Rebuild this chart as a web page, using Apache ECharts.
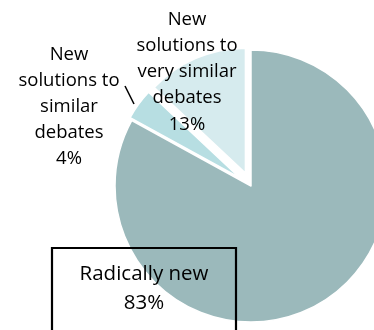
<!DOCTYPE html>
<html><head><meta charset="utf-8">
<script src="https://cdn.jsdelivr.net/npm/echarts@6/dist/echarts.min.js"></script>
<style>html,body{margin:0;padding:0;background:#fff}#c{width:374px;height:330px}</style>
</head><body><div id="c"></div>
<script>
const categories = ['Radically new', 'New solutions to similar debates', 'New solutions to very similar debates'];
const labelLines = [['Radically new'], ['New', 'solutions to', 'similar', 'debates'], ['New', 'solutions to', 'very similar', 'debates']];
const values = [83, 4, 13];
const colors = ['#9bb9bb', '#b7dee2', '#d6ebee'];
const exploded = [false, true, true];

const chart = echarts.init(document.getElementById('c'), null, {renderer: 'canvas'});
const none = 'rgba(0,0,0,0)';
// main (non-exploded) slice series
const dataMain = categories.map((c, i) => ({
  name: c, value: values[i],
  itemStyle: exploded[i] ? {color: none, borderColor: none} : {color: colors[i]}
}));
// exploded slices series
const dataExp = categories.map((c, i) => ({
  name: c, value: values[i], selected: exploded[i],
  itemStyle: exploded[i] ? {color: colors[i]} : {color: none, borderColor: none}
}));
const labelPos = [[144, 288.5, 29, 20.5], [69, 106.5, 26, 18.5], [187, 72, 26.2, 18.5]];
const graphics = [
  {type: 'rect', shape: {x: 52, y: 248, width: 184, height: 100}, style: {fill: 'none', stroke: '#000', lineWidth: 2.2}, z: 10},
  {type: 'line', shape: {x1: 125, y1: 86, x2: 134, y2: 104}, style: {stroke: '#000', lineWidth: 1.5}, z: 10}
];
categories.forEach((c, i) => {
  graphics.push({
    type: 'text', x: labelPos[i][0], y: labelPos[i][1], z: 11,
    style: {
      text: labelLines[i].join('\n') + '\n' + values[i] + '%',
      lineHeight: labelPos[i][2], fontSize: labelPos[i][3],
      fontFamily: 'Open Sans', fill: '#000', align: 'center', verticalAlign: 'middle'
    }
  });
});
const common = {
  type: 'pie', center: [251, 186], startAngle: 90, clockwise: true,
  emphasis: {disabled: true}, label: {show: false}, labelLine: {show: false},
  itemStyle: {borderColor: '#fff', borderWidth: 1.5}, silent: true
};
chart.setOption({
  animation: false,
  graphic: graphics,
  series: [
    Object.assign({}, common, {radius: 136, data: dataMain}),
    Object.assign({}, common, {radius: 125, selectedMode: 'multiple', selectedOffset: 14, data: dataExp})
  ]
});
</script></body></html>
